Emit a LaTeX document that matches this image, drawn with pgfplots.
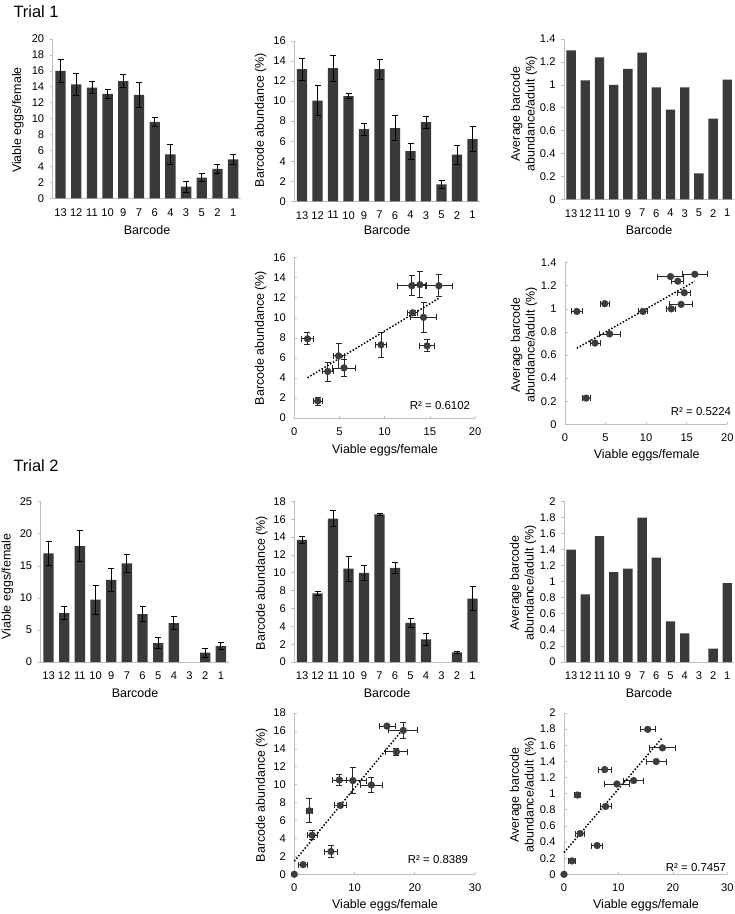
\documentclass[border=0pt]{standalone}
\usepackage{fontspec}
\setmainfont{Liberation Sans}
\usepackage{pgfplots}
\usepackage{pgfplotstable}
\pgfplotsset{compat=1.18}
\definecolor{barc}{HTML}{3A3A3A}
\definecolor{ptc}{HTML}{3C3C3C}
\definecolor{axgray}{HTML}{BFBFBF}
\newcommand\lab{\fontsize{12.5}{15}\selectfont}
\newcommand\tl{\fontsize{11.2}{13}\selectfont}

% Trial 1: position, eggs/female, err, abundance %, err, avg abundance/adult
\pgfplotstableread{
pos eggs eerr abund aerr avg
0 16.0 1.5 13.2 1.1 1.30
1 14.3 1.4 10.05 1.5 1.039
2 13.9 0.75 13.3 1.3 1.24
3 13.1 0.55 10.5 0.25 1.00
4 14.7 0.8 7.2 0.6 1.14
5 13.0 1.6 13.2 1.0 1.28
6 9.6 0.6 7.3 1.25 0.978
7 5.5 1.3 5.0 0.8 0.783
8 1.46 0.7 7.9 0.6 0.978
9 2.6 0.5 1.7 0.4 0.227
10 3.7 0.6 4.65 0.95 0.704
11 4.9 0.6 6.2 1.25 1.045
}\trialone

% Trial 2 (barcode 3 at position 9 is zero in all series)
\pgfplotstableread{
pos eggs eerr abund aerr avg
0 16.94 1.85 13.67 0.43 1.398
1 7.64 1.04 7.69 0.19 0.842
2 18.09 2.4 16.06 0.88 1.568
3 9.72 2.25 10.46 1.42 1.12
4 12.79 1.8 9.97 0.86 1.162
5 15.38 1.33 16.54 0.11 1.797
6 7.48 1.15 10.53 0.6 1.299
7 2.96 0.83 4.37 0.52 0.506
8 6.08 1.04 2.54 0.66 0.357
10 1.46 0.72 1.08 0.15 0.166
11 2.49 0.5 7.09 1.34 0.983
}\trialtwo

\pgfplotsset{
  base/.style={scale only axis, axis lines*=left,
    axis line style={-,draw=axgray,line width=0.8bp},
    tick style={draw=axgray,line width=0.6bp},
    ticklabel style={font=\tl}, /pgf/number format/assume math mode=true,
    clip=false, ymin=0, anchor=south west},
  barax/.style={base, xmin=-0.5, xmax=11.5, xtick={0,...,11}, xtick style={draw=none},
    major tick length=3bp, tick align=outside,
    ybar, bar width=0.66, xticklabel style={yshift=-3.5bp}, yticklabel style={xshift=-2bp}},
  bars/.style={fill=barc, draw=none, bar shift=0pt,
    error bars/y dir=both, error bars/y explicit,
    error bars/error bar style={black,line width=0.8bp},
    error bars/error mark options={rotate=90,black,mark size=3bp,line width=0.8bp}},
  scat/.style={only marks, mark=*, mark size=3.4bp, color=ptc,
    error bars/error bar style={black!85,line width=0.8bp},
    error bars/error mark options={rotate=90,black!85,mark size=3bp,line width=0.8bp}},
  trend/.style={black, line width=1.5bp, dash pattern=on 1.5bp off 1.8bp},
  scax/.style={base, xmin=0, major tick length=2.5bp, tick align=inside,
    xticklabel style={yshift=-6bp}, yticklabel style={xshift=-5bp}},
}

\begin{document}
\begin{tikzpicture}
\useasboundingbox (0,0) rectangle (735bp,-914bp);

% ---------- Trial 1 ----------
\node[anchor=base west,font=\fontsize{16.5}{19}\selectfont] at (10bp,-17bp) {Trial 1};

\begin{axis}[barax, at={(52.7bp,-198.3bp)}, width=188.3bp, height=159.3bp,
  ymax=20, ytick={0,2,...,20}, xticklabels={13,12,11,10,9,7,6,4,3,5,2,1}]
\addplot[bars] table[x=pos,y=eggs,y error=eerr] {\trialone};
\end{axis}

\begin{axis}[barax, at={(294.3bp,-201.3bp)}, width=186bp, height=160.3bp,
  ymax=16, ytick={0,2,...,16}, xticklabels={13,12,11,10,9,7,6,4,3,5,2,1}]
\addplot[bars] table[x=pos,y=abund,y error=aerr] {\trialone};
\end{axis}

\begin{axis}[barax, at={(564bp,-199.3bp)}, width=170.4bp, height=160.3bp,
  ymax=1.4, ytick={0,0.2,0.4,0.6,0.8,1,1.2,1.4}, xticklabels={13,12,11,10,9,7,6,4,3,5,2,1}]
\addplot[fill=barc,draw=none,bar shift=0pt] table[x=pos,y=avg] {\trialone};
\end{axis}

\begin{axis}[scax, at={(294.3bp,-418bp)}, width=180.7bp, height=160.3bp,
  xmax=20, ymax=16, xtick={0,5,...,20}, ytick={0,2,...,16}]
\addplot[scat, error bars/x dir=both, error bars/x explicit, error bars/y dir=both, error bars/y explicit]
  table[x=eggs,y=abund,x error=eerr,y error=aerr] {\trialone};
\addplot[trend] coordinates {(1.46,4.02) (16,11.95)};
\end{axis}

\begin{axis}[scax, at={(565bp,-424.3bp)}, width=162.3bp, height=161.6bp,
  xmax=20, ymax=1.4, xtick={0,5,...,20}, ytick={0,0.2,0.4,0.6,0.8,1,1.2,1.4}]
\addplot[scat, error bars/x dir=both, error bars/x explicit]
  table[x=eggs,y=avg,x error=eerr] {\trialone};
\addplot[trend] coordinates {(1.46,0.659) (16,1.239)};
\end{axis}

% ---------- Trial 2 ----------
\node[anchor=base west,font=\fontsize{16.5}{19}\selectfont] at (10bp,-471bp) {Trial 2};

\begin{axis}[barax, at={(40.7bp,-662bp)}, width=188bp, height=160.3bp,
  ymax=25, ytick={0,5,...,25}, xticklabels={13,12,11,10,9,7,6,5,4,3,2,1}]
\addplot[bars] table[x=pos,y=eggs,y error=eerr] {\trialtwo};
\end{axis}

\begin{axis}[barax, at={(294.3bp,-662bp)}, width=186bp, height=160.7bp,
  ymax=18, ytick={0,2,...,18}, xticklabels={13,12,11,10,9,7,6,5,4,3,2,1}]
\addplot[bars] table[x=pos,y=abund,y error=aerr] {\trialtwo};
\end{axis}

\begin{axis}[barax, at={(564bp,-662bp)}, width=170.4bp, height=160.7bp,
  ymax=2, ytick={0,0.2,0.4,0.6,0.8,1,1.2,1.4,1.6,1.8,2}, xticklabels={13,12,11,10,9,7,6,5,4,3,2,1}]
\addplot[fill=barc,draw=none,bar shift=0pt] table[x=pos,y=avg] {\trialtwo};
\end{axis}

\begin{axis}[scax, at={(294.3bp,-874.3bp)}, width=180.7bp, height=161.3bp,
  xmax=30, ymax=18, xtick={0,10,20,30}, ytick={0,2,...,18}]
\addplot[scat, error bars/x dir=both, error bars/x explicit, error bars/y dir=both, error bars/y explicit]
  table[x=eggs,y=abund,x error=eerr,y error=aerr] {\trialtwo};
\addplot[only marks, mark=*, mark size=3.4bp, color=ptc] coordinates {(0,0)};
\addplot[trend] coordinates {(0,1.45) (18.09,16.24)};
\end{axis}

\begin{axis}[scax, at={(564bp,-874.3bp)}, width=163.3bp, height=161.3bp,
  xmax=30, ymax=2, xtick={0,10,20,30}, ytick={0,0.2,0.4,0.6,0.8,1,1.2,1.4,1.6,1.8,2}]
\addplot[scat, error bars/x dir=both, error bars/x explicit]
  table[x=eggs,y=avg,x error=eerr] {\trialtwo};
\addplot[only marks, mark=*, mark size=3.4bp, color=ptc] coordinates {(0,0)};
\addplot[trend] coordinates {(0,0.27) (18.09,1.696)};
\end{axis}

% ---------- axis labels ----------
\node[rotate=90,font=\lab] at (18bp,-120bp) {Viable eggs/female};
\node[rotate=90,font=\lab] at (260.7bp,-120bp) {Barcode abundance (\%)};
\node[rotate=90,font=\lab,align=center] at (524bp,-114bp) {Average barcode\\abundance/adult (\%)};
\node[font=\lab] at (147bp,-230bp) {Barcode};
\node[font=\lab] at (387bp,-230bp) {Barcode};
\node[font=\lab] at (649bp,-230bp) {Barcode};

\node[rotate=90,font=\lab] at (260.7bp,-338bp) {Barcode abundance (\%)};
\node[rotate=90,font=\lab,align=center] at (524bp,-345bp) {Average barcode\\abundance/adult (\%)};
\node[font=\lab] at (385bp,-450.7bp) {Viable eggs/female};
\node[font=\lab] at (646.7bp,-455.7bp) {Viable eggs/female};
\node[font=\fontsize{11.5}{13}\selectfont] at (440bp,-405.7bp) {R² = 0.6102};
\node[font=\fontsize{11.5}{13}\selectfont] at (701bp,-412bp) {R² = 0.5224};

\node[rotate=90,font=\lab] at (7.5bp,-586.7bp) {Viable eggs/female};
\node[rotate=90,font=\lab] at (261.7bp,-583bp) {Barcode abundance (\%)};
\node[rotate=90,font=\lab,align=center] at (523bp,-583bp) {Average barcode\\abundance/adult (\%)};
\node[font=\lab] at (135bp,-693bp) {Barcode};
\node[font=\lab] at (387bp,-693bp) {Barcode};
\node[font=\lab] at (649bp,-693bp) {Barcode};

\node[rotate=90,font=\lab] at (261.7bp,-795bp) {Barcode abundance (\%)};
\node[rotate=90,font=\lab,align=center] at (523bp,-795bp) {Average barcode\\abundance/adult (\%)};
\node[font=\lab] at (385bp,-905bp) {Viable eggs/female};
\node[font=\lab] at (646bp,-905bp) {Viable eggs/female};
\node[font=\fontsize{11.5}{13}\selectfont] at (438bp,-860bp) {R² = 0.8389};
\node[font=\fontsize{11.5}{13}\selectfont] at (696bp,-867.7bp) {R² = 0.7457};
\end{tikzpicture}
\end{document}
